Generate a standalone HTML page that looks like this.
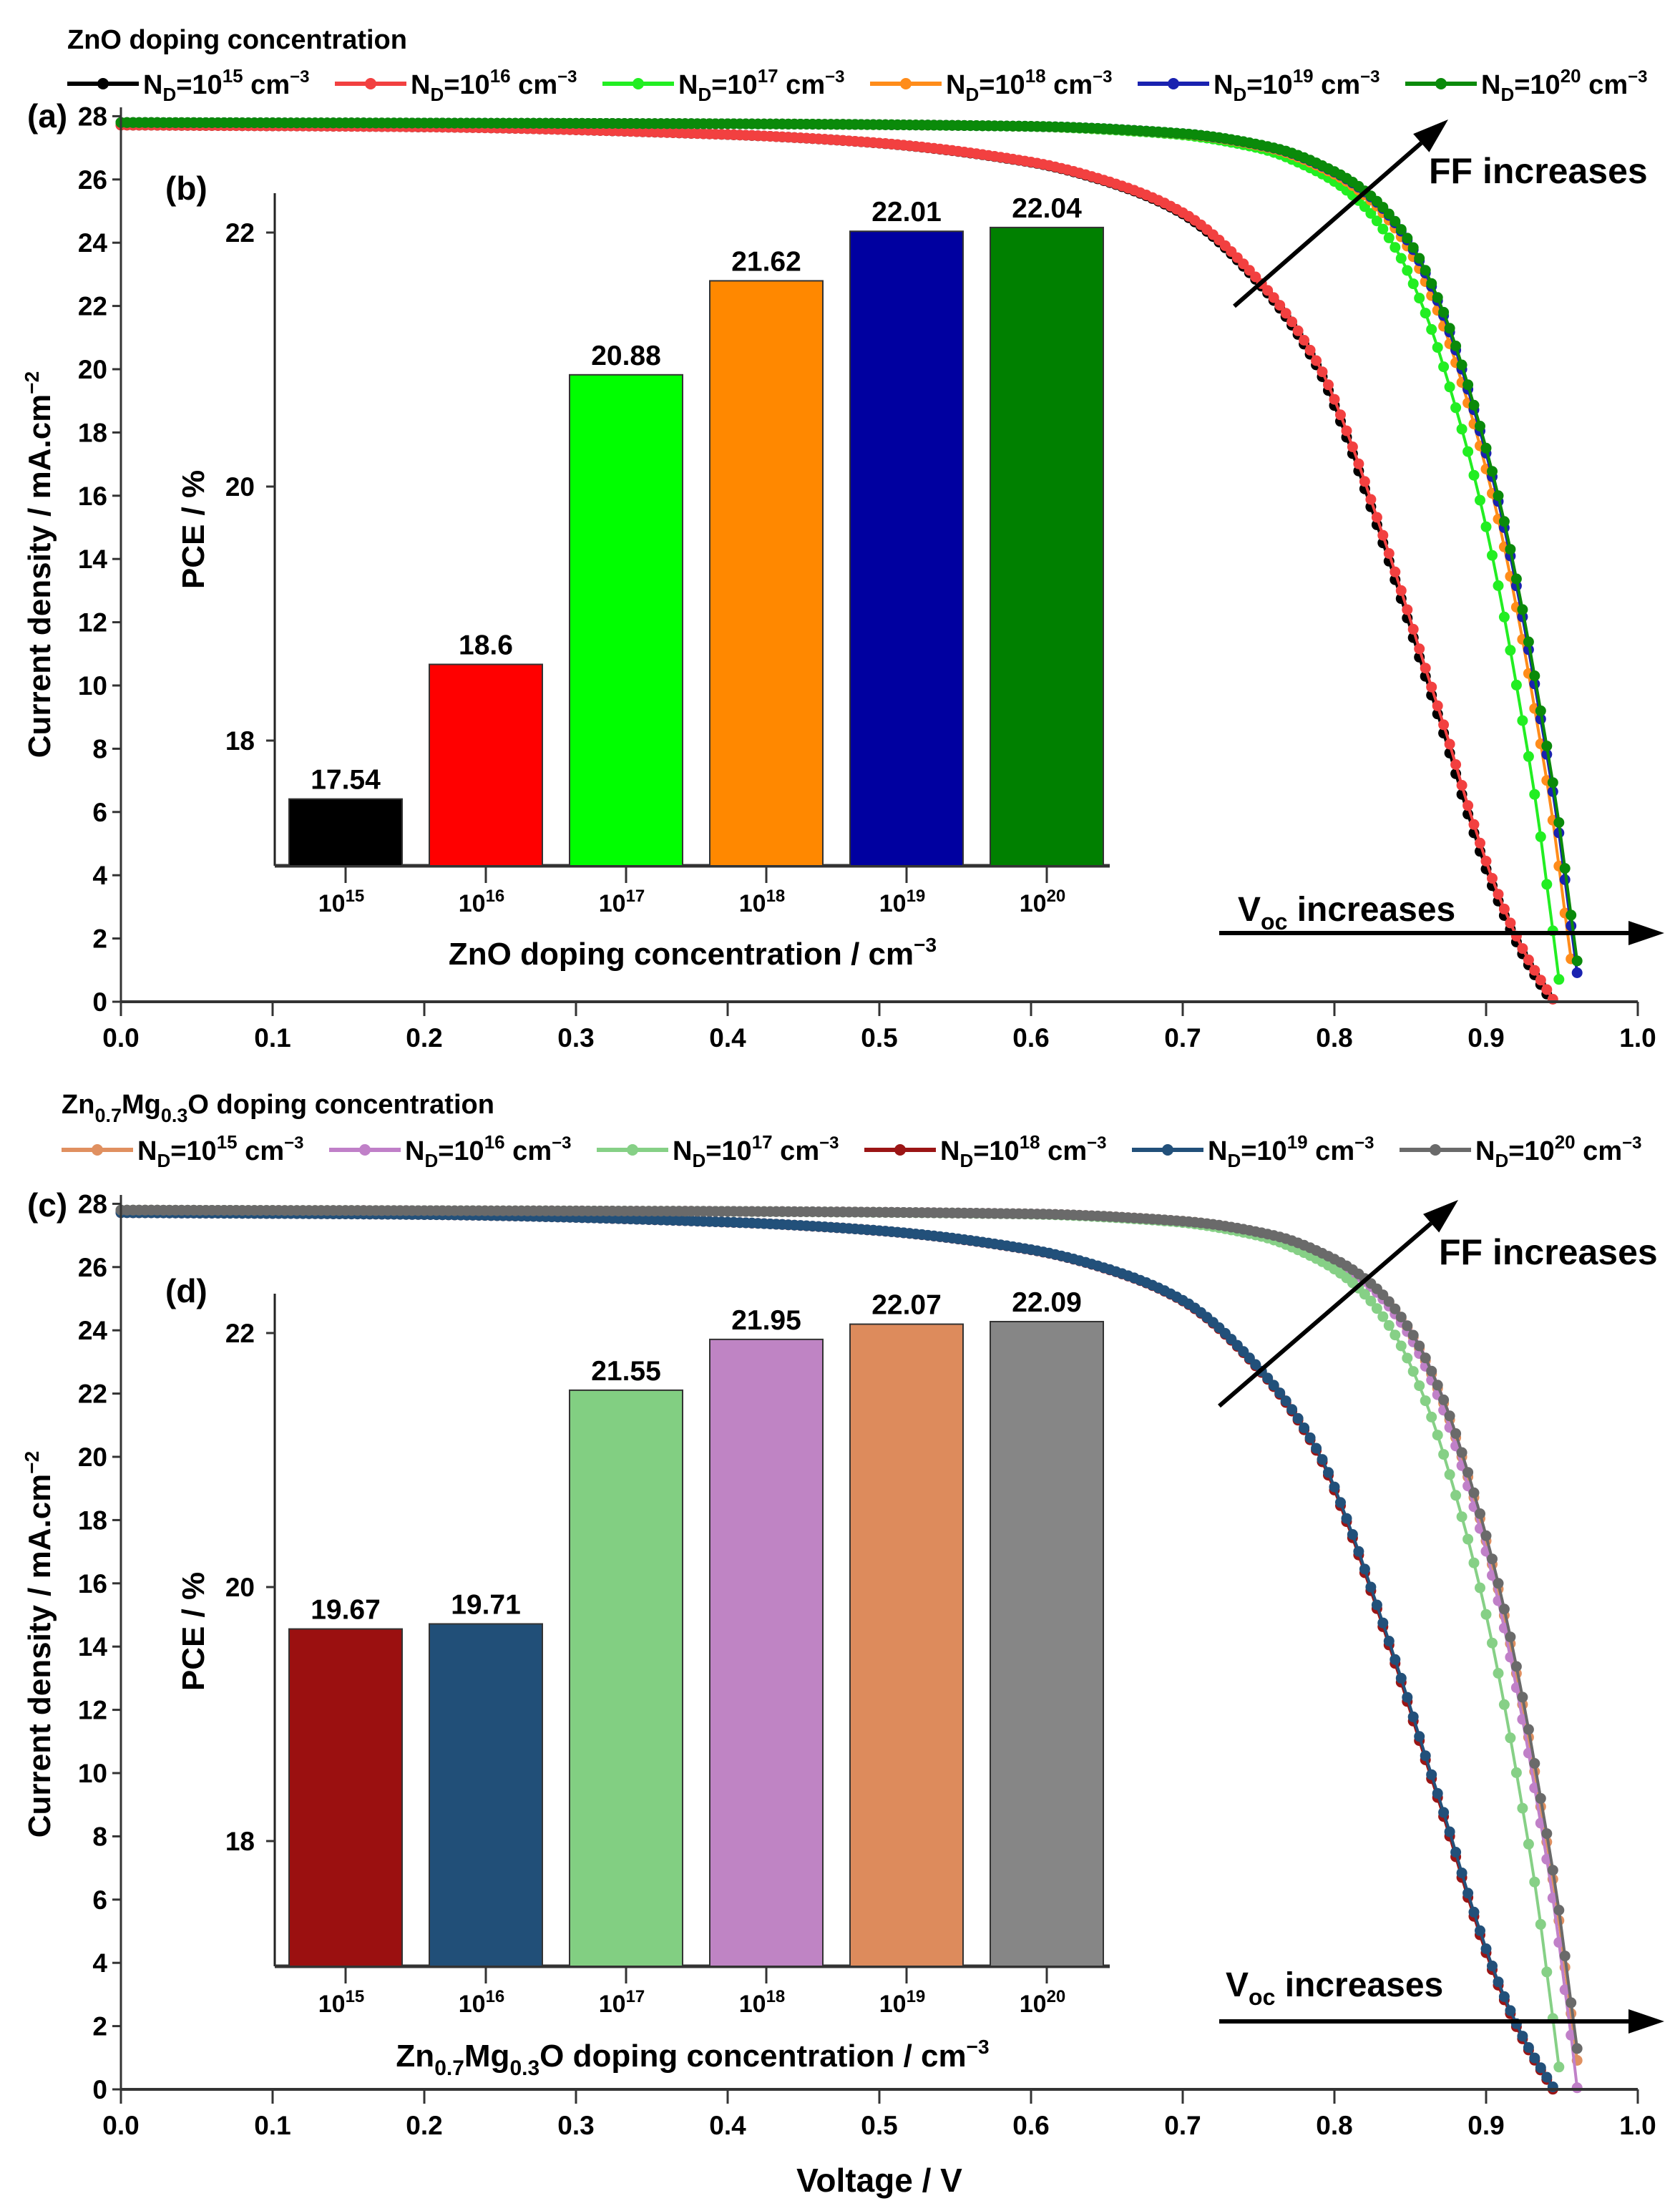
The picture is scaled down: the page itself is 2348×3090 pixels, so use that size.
<!DOCTYPE html>
<html><head><meta charset="utf-8">
<style>
html,body{margin:0;padding:0;background:#fff;}
svg{display:block;font-family:"Liberation Sans",Arial,sans-serif;font-weight:bold;}
</style></head>
<body>
<svg id="s" xmlns="http://www.w3.org/2000/svg" width="2348" height="3090" viewBox="0 0 2348 3090">
<rect width="2348" height="3090" fill="#fff"/>
<g id="curvesA"></g>
<g id="curvesC"></g>
<g id="static"></g>
</svg>
<script>
(function(){
var NS="http://www.w3.org/2000/svg";
var S=document.getElementById('static');
function el(tag,attrs,parent,text){var e=document.createElementNS(NS,tag);for(var k in attrs)e.setAttribute(k,attrs[k]);if(text!==undefined)e.textContent=text;(parent||S).appendChild(e);return e;}
function X(v){return 169+v*2120;}
var red=[[0,27.72],[0.2,27.66],[0.4,27.42],[0.5,27.15],[0.6,26.55],[0.65,25.95],[0.7,24.95],[0.754,22.6],[0.79,20.1],[0.81,17.8],[0.826,15.6],[0.844,13.0],[0.859,10.7],[0.875,8.3],[0.89,5.9],[0.908,3.4],[0.926,1.5],[0.945,0]];
var dg=[[0,27.8],[0.4,27.76],[0.6,27.68],[0.7,27.45],[0.76,27.0],[0.8,26.25],[0.826,25.4],[0.85,24.0],[0.872,21.8],[0.893,18.7],[0.91,15.6],[0.924,12.4],[0.936,9.2],[0.947,6.0],[0.955,3.1],[0.961,0.9],[0.963,0]];
function mono(t){var n=t.length,d=[],m=[];for(var i=0;i<n-1;i++)d.push((t[i+1][1]-t[i][1])/(t[i+1][0]-t[i][0]));
 m[0]=d[0];m[n-1]=d[n-2];for(var i=1;i<n-1;i++){m[i]=(d[i-1]*d[i]<=0)?0:2/(1/d[i-1]+1/d[i]);}
 return function(v){if(v<=t[0][0])return t[0][1];for(var i=1;i<n;i++){if(v<=t[i][0]){var h=t[i][0]-t[i-1][0],s=(v-t[i-1][0])/h;
  var h00=2*s*s*s-3*s*s+1,h10=s*s*s-2*s*s+s,h01=-2*s*s*s+3*s*s,h11=s*s*s-s*s;
  return h00*t[i-1][1]+h10*h*m[i-1]+h01*t[i][1]+h11*h*m[i];}}return 0;};}
var fr=mono(red),fg=mono(dg);
function curve(g,f,vend,sc,col,y0){
 var vmax=vend*sc, pts=[], d="";
 for(var v=0;v<=vmax+1e-9;v+=0.004){var j=Math.max(0,f(v/sc));pts.push([X(v),y0-j*44.2]);}
 for(var i=0;i<pts.length;i++)d+=(i?"L":"M")+pts[i][0].toFixed(1)+" "+pts[i][1].toFixed(1);
 el('path',{d:d,stroke:col,'stroke-width':4,fill:'none'},g);
 for(var i=0;i<pts.length;i++)el('circle',{cx:pts[i][0].toFixed(1),cy:pts[i][1].toFixed(1),r:7.5,fill:col},g);
}
var gA=document.getElementById('curvesA'),gC=document.getElementById('curvesC');
curve(gA,fr,0.945,0.998,'#000',1400);
curve(gA,fr,0.945,1,'#f24040',1400);
curve(gA,fg,0.963,0.986,'#22ee22',1400);
curve(gA,fg,0.963,0.996,'#ff8c1a',1400);
curve(gA,fg,0.963,0.999,'#1a22b0',1400);
curve(gA,fg,0.963,1,'#0a8a0a',1400);
curve(gC,fg,0.963,0.999,'#e09060',2920);
curve(gC,fg,0.963,0.997,'#c080c8',2920);
curve(gC,fg,0.963,0.986,'#86d086',2920);
curve(gC,fr,0.945,0.999,'#9b1515',2920);
curve(gC,fr,0.945,1,'#22507a',2920);
curve(gC,fg,0.963,1,'#6a6a6a',2920);

function mainAxes(y0,tag,tagY,legendY,titleY,titleNodes,legendCols,labelY){
 el('line',{x1:169,y1:y0-1250,x2:169,y2:y0,stroke:'#333','stroke-width':3});
 el('line',{x1:169,y1:y0,x2:2289,y2:y0,stroke:'#333','stroke-width':4});
 for(var k=0;k<=28;k+=2){var y=y0-k*44.2;el('line',{x1:157,y1:y,x2:169,y2:y,stroke:'#333','stroke-width':3});
  el('text',{x:150,y:y+13,'font-size':37,'text-anchor':'end'},S,k);}
 for(var k=0;k<=10;k++){var x=X(k/10);el('line',{x1:x,y1:y0,x2:x,y2:y0+20,stroke:'#333','stroke-width':3});
  el('text',{x:x,y:y0+63,'font-size':37,'text-anchor':'middle'},S,(k/10).toFixed(1));}
 el('text',{x:38,y:tagY,'font-size':46},S,tag);
 var t=el('text',{x:0,y:0,'font-size':44,'text-anchor':'middle',transform:'translate(70,'+labelY+') rotate(-90)'});
 t.innerHTML='Current density / mA.cm<tspan dy="-16" font-size="28">−2</tspan>';
 var tt=el('text',{x:titleNodes[0],y:titleY,'font-size':38});tt.innerHTML=titleNodes[1];
 for(var i=0;i<6;i++){var x0=legendCols[0]+i*374;
  el('line',{x1:x0,y1:legendY,x2:x0+100,y2:legendY,stroke:legendCols[1][i],'stroke-width':6});
  el('circle',{cx:x0+50,cy:legendY,r:8,fill:legendCols[1][i]});
  var lt=el('text',{x:x0+106,y:legendY+14,'font-size':38});
  lt.innerHTML='N<tspan dy="10" font-size="26">D</tspan><tspan dy="-10">=10</tspan><tspan dy="-16" font-size="26">'+(15+i)+'</tspan><tspan dy="16"> cm</tspan><tspan dy="-16" font-size="24">−3</tspan>';
 }
}
mainAxes(1400,'(a)',178,117,68,[94,'ZnO doping concentration'],[94,['#000','#f24040','#22ee22','#ff8c1a','#1a22b0','#0a8a0a']],789);
mainAxes(2920,'(c)',1700,1607,1556,[86,'Zn<tspan dy="12" font-size="27">0.7</tspan><tspan dy="-12">Mg</tspan><tspan dy="12" font-size="27">0.3</tspan><tspan dy="-12">O doping concentration</tspan>'],[86,['#e09060','#c080c8','#86d086','#9b1515','#22507a','#6a6a6a']],2298);

function inset(top,y22,bottom,vals,cols,tag,tagY,titleHtml,tickY,titleY,pceY){
 el('line',{x1:384,y1:top,x2:384,y2:bottom,stroke:'#222','stroke-width':3});
 el('line',{x1:384,y1:bottom,x2:1551,y2:bottom,stroke:'#333','stroke-width':5});
 [22,20,18].forEach(function(p){var y=y22+(22-p)*177.5;el('line',{x1:372,y1:y,x2:384,y2:y,stroke:'#333','stroke-width':3});
  el('text',{x:356,y:y+13,'font-size':37,'text-anchor':'end'},S,p);});
 for(var i=0;i<6;i++){var cx=483+i*196,top2=y22+(22-vals[i])*177.5;
  el('rect',{x:cx-79,y:top2,width:158,height:bottom-top2,fill:cols[i],stroke:'#333','stroke-width':2});
  el('text',{x:cx,y:top2-14,'font-size':39,'text-anchor':'middle'},S,vals[i]);
  el('line',{x1:cx,y1:bottom,x2:cx,y2:bottom+24,stroke:'#333','stroke-width':3});
  var t=el('text',{x:cx-6,y:tickY+12,'font-size':34,'text-anchor':'middle'});
  t.innerHTML='10<tspan dy="-14" font-size="24">'+(15+i)+'</tspan>';
 }
 el('text',{x:231,y:tagY,'font-size':46},S,tag);
 var tt=el('text',{x:968,y:titleY+15,'font-size':44,'text-anchor':'middle'});tt.innerHTML=titleHtml;
 el('text',{x:0,y:0,'font-size':44,'text-anchor':'middle',transform:'translate(285,'+pceY+') rotate(-90)'},S,'PCE / %');
}
inset(270,325,1210,[17.54,18.6,20.88,21.62,22.01,22.04],['#000','#ff0000','#00ff00','#ff8800','#0000a0','#008000'],'(b)',279,'ZnO doping concentration / cm<tspan dy="-18" font-size="28">−3</tspan>',1262,1333,740);
inset(1808,1863,2748,[19.67,19.71,21.55,21.95,22.07,22.09],['#9b1010','#214f78','#82cf82','#bf84c4','#dd8b5c','#868686'],'(d)',1820,'Zn<tspan dy="12" font-size="30">0.7</tspan><tspan dy="-12">Mg</tspan><tspan dy="12" font-size="30">0.3</tspan><tspan dy="-12">O doping concentration / cm</tspan><tspan dy="-18" font-size="28">−3</tspan>',2800,2873,2280);

function arrow(x1,y1,x2,y2){var a=Math.atan2(y2-y1,x2-x1),L=50,W=17;
 var bx=x2-L*Math.cos(a),by=y2-L*Math.sin(a);
 el('line',{x1:x1,y1:y1,x2:bx,y2:by,stroke:'#000','stroke-width':6});
 el('polygon',{points:x2+','+y2+' '+(bx+W*Math.sin(a))+','+(by-W*Math.cos(a))+' '+(bx-W*Math.sin(a))+','+(by+W*Math.cos(a)),fill:'#000'});}
arrow(1725,428,2024,167);arrow(1704,1304,2326,1304);
arrow(1704,1965,2038,1677);arrow(1704,2825,2326,2825);
el('text',{x:1997,y:256,'font-size':50},S,'FF increases');
el('text',{x:2011,y:1767,'font-size':50},S,'FF increases');
var v1=el('text',{x:1730,y:1287,'font-size':48});v1.innerHTML='V<tspan dy="12" font-size="32">oc</tspan><tspan dy="-12"> increases</tspan>';
var v2=el('text',{x:1713,y:2790,'font-size':48});v2.innerHTML='V<tspan dy="12" font-size="32">oc</tspan><tspan dy="-12"> increases</tspan>';
el('text',{x:1229,y:3063,'font-size':46,'text-anchor':'middle'},S,'Voltage / V');
})();
</script>
</body></html>
